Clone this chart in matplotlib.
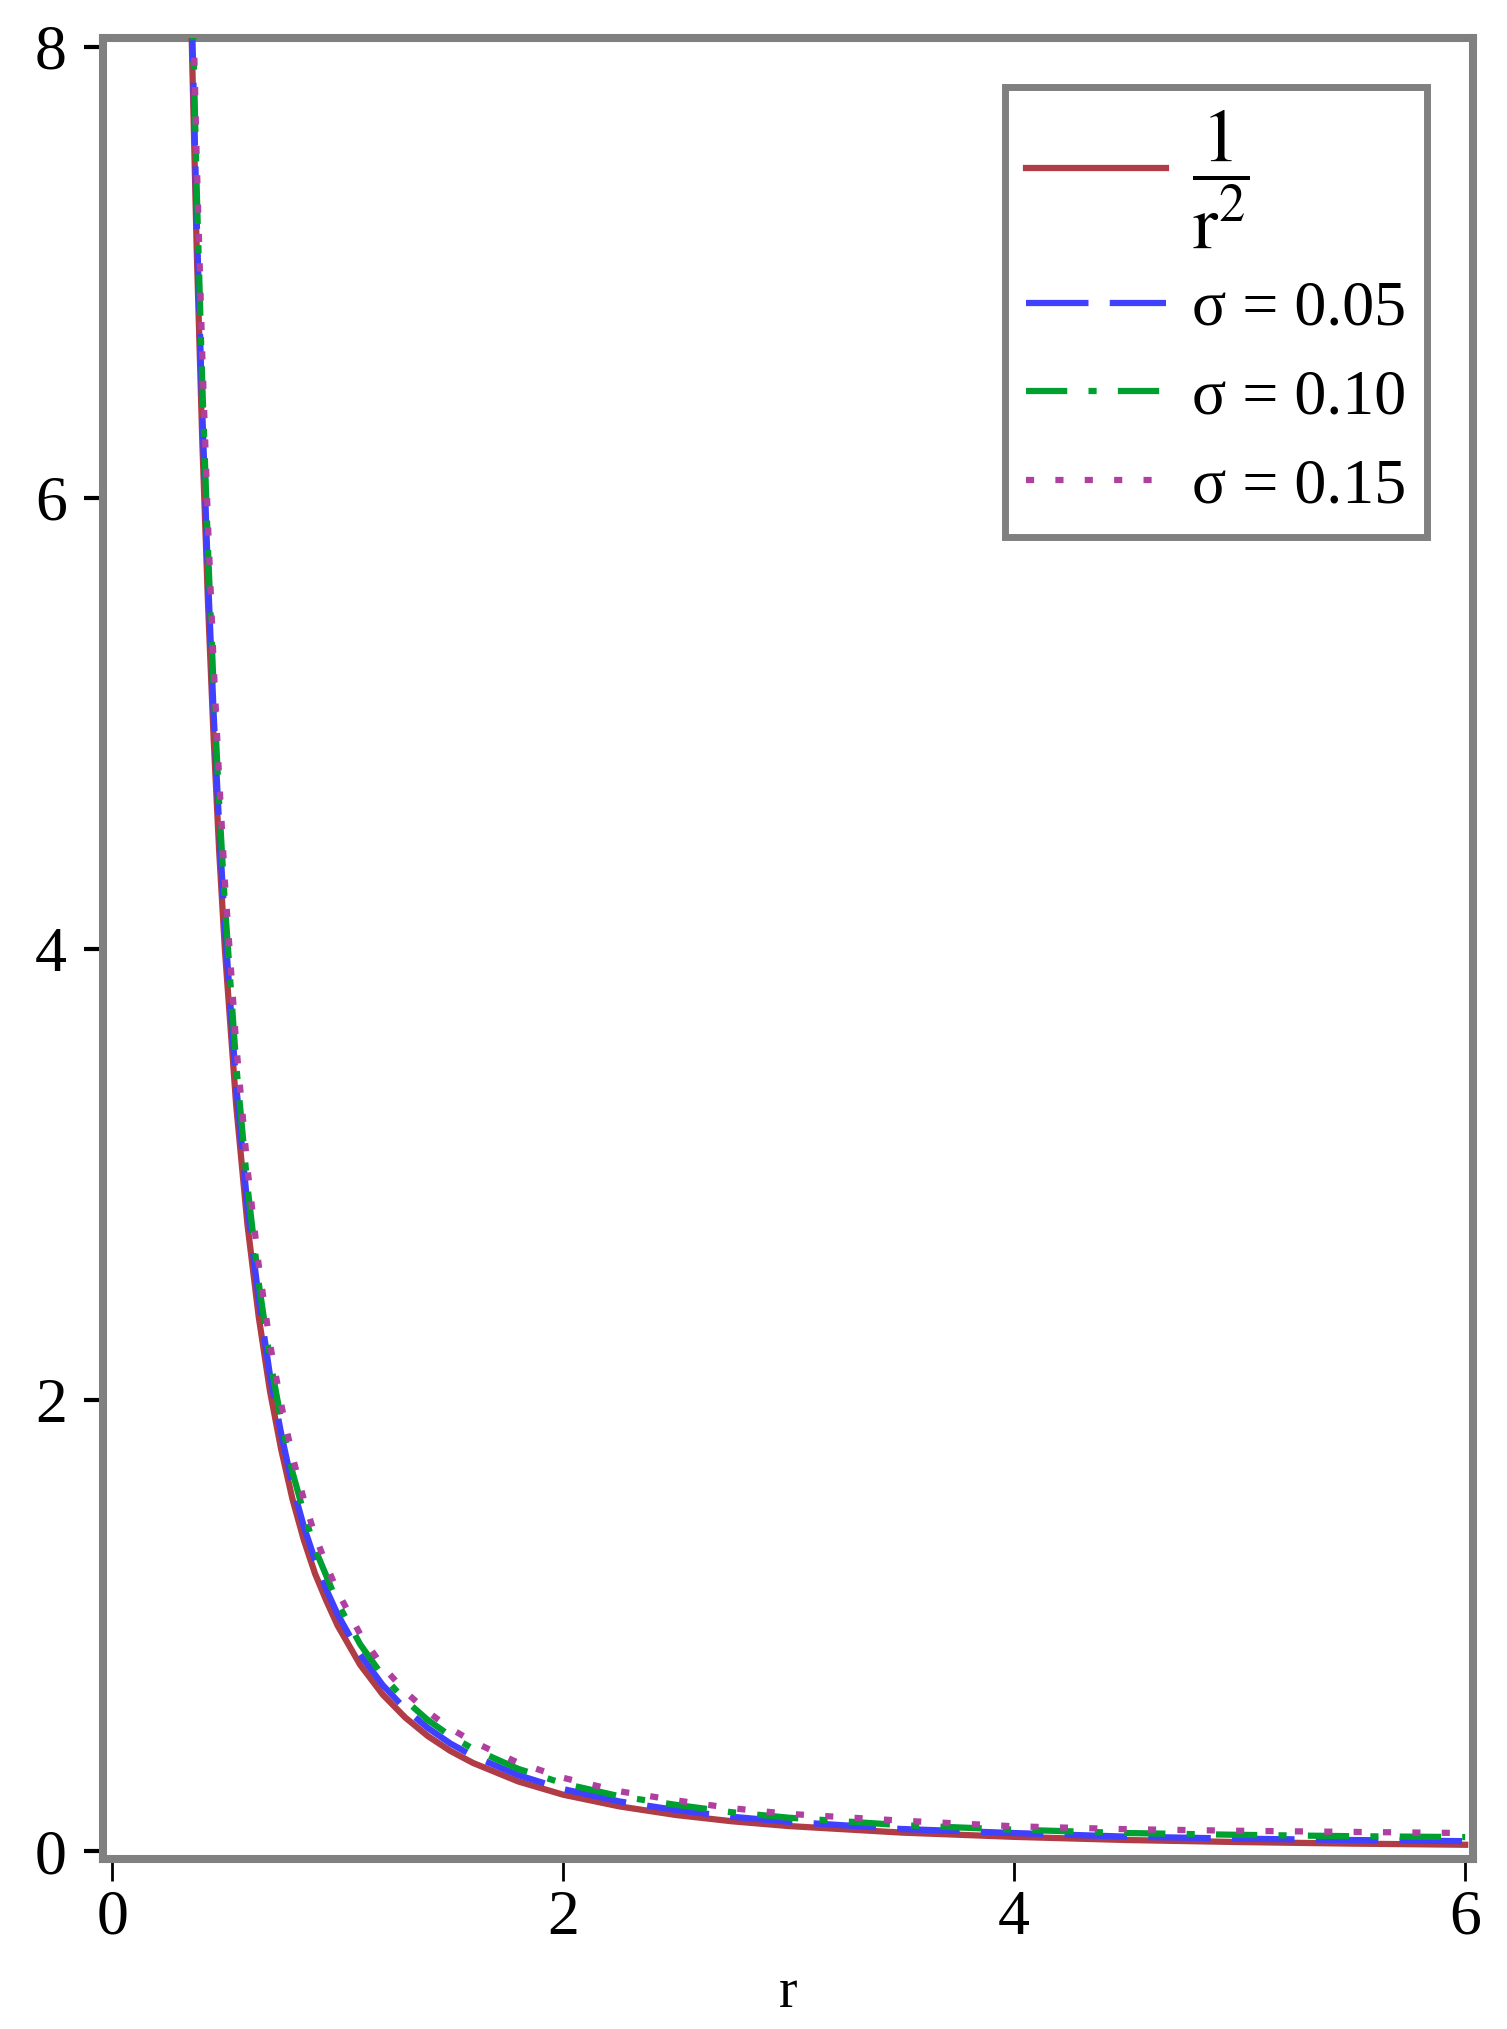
import numpy as np
import matplotlib
matplotlib.use("Agg")
import matplotlib.pyplot as plt

plt.rcParams["font.family"] = ["Liberation Serif", "DejaVu Serif"]
plt.rcParams["mathtext.fontset"] = "stix"

# values
r = [0.35, 0.375, 0.4, 0.425, 0.45, 0.475, 0.5, 0.55, 0.6, 0.65, 0.7, 0.75,
     0.8, 0.85, 0.9, 0.95, 1.0, 1.1, 1.2, 1.3, 1.4, 1.5, 1.6, 1.8, 2.0,
     2.25, 2.5, 2.75, 3.0, 3.5, 4.0, 4.5, 5.0, 5.5, 6.0]

inv_r2 = [8.16, 7.11, 6.25, 5.54, 4.94, 4.43, 4.00, 3.31, 2.78, 2.37, 2.04, 1.78,
          1.56, 1.38, 1.23, 1.11, 1.00, 0.826, 0.694, 0.592, 0.510, 0.444, 0.391, 0.309, 0.250,
          0.198, 0.160, 0.132, 0.111, 0.082, 0.063, 0.049, 0.040, 0.033, 0.028]

sigma_005 = [8.30, 7.24, 6.38, 5.66, 5.05, 4.54, 4.10, 3.40, 2.86, 2.45, 2.11, 1.85,
             1.62, 1.44, 1.29, 1.16, 1.05, 0.871, 0.736, 0.630, 0.546, 0.477, 0.422, 0.337, 0.275,
             0.220, 0.182, 0.152, 0.130, 0.098, 0.080, 0.064, 0.055, 0.049, 0.044]

sigma_010 = [8.45, 7.38, 6.50, 5.78, 5.16, 4.64, 4.20, 3.49, 2.95, 2.52, 2.18, 1.91,
             1.68, 1.50, 1.34, 1.22, 1.10, 0.917, 0.777, 0.669, 0.581, 0.511, 0.454, 0.365, 0.300,
             0.243, 0.205, 0.172, 0.148, 0.115, 0.095, 0.080, 0.072, 0.066, 0.062]

sigma_015 = [8.59, 7.51, 6.63, 5.89, 5.27, 4.75, 4.30, 3.58, 3.03, 2.60, 2.25, 1.98,
             1.75, 1.56, 1.40, 1.27, 1.15, 0.962, 0.819, 0.707, 0.617, 0.544, 0.485, 0.392, 0.325,
             0.265, 0.225, 0.190, 0.165, 0.135, 0.110, 0.097, 0.090, 0.085, 0.080]

labels = [r"$\dfrac{1}{\mathrm{r}^{2}}$", "σ = 0.05", "σ = 0.10", "σ = 0.15"]
xticks = [0, 2, 4, 6]
yticks = [0, 2, 4, 6, 8]

fig = plt.figure(figsize=(15.07, 20.29), dpi=100)
ax = fig.add_axes([0.0684, 0.0838, 0.9091, 0.8975])

lw = 4.5
ax.plot(r, inv_r2, color="#b03c46", lw=lw, label=labels[0], zorder=5)
ax.plot(r, sigma_005, color="#4040ff", lw=lw, dashes=(10, 3.4), label=labels[1], zorder=5)
ax.plot(r, sigma_010, color="#00a030", lw=lw, dashes=(6.6, 3.4, 1.3, 3.4), label=labels[2], zorder=5)
ax.plot(r, sigma_015, color="#b040a0", lw=lw, dashes=(1.3, 3.4), label=labels[3], zorder=5)

ax.set_xlim(-0.04, 6.035)
ax.set_ylim(-0.035, 8.04)
ax.set_xticks(xticks)
ax.set_yticks(yticks)

for s in ax.spines.values():
    s.set_color("#808080")
    s.set_linewidth(5.8)

ax.tick_params(axis="x", direction="out", length=16, width=2, color="black",
               labelsize=46, pad=6)
ax.tick_params(axis="y", direction="out", length=14, width=3, color="black",
               labelsize=46, pad=12)
ax.set_xlabel("r", fontsize=40, labelpad=14)

leg = ax.legend(loc="upper right", bbox_to_anchor=(0.966, 0.973), borderaxespad=0,
                fontsize=46, handlelength=2.2, handletextpad=0.4, labelspacing=0.47,
                borderpad=0.32, fancybox=False, framealpha=1)
leg.get_texts()[0].set_fontsize(54)
leg.get_frame().set_edgecolor("#808080")
leg.get_frame().set_linewidth(5)

plt.savefig("out.png", dpi=100)
